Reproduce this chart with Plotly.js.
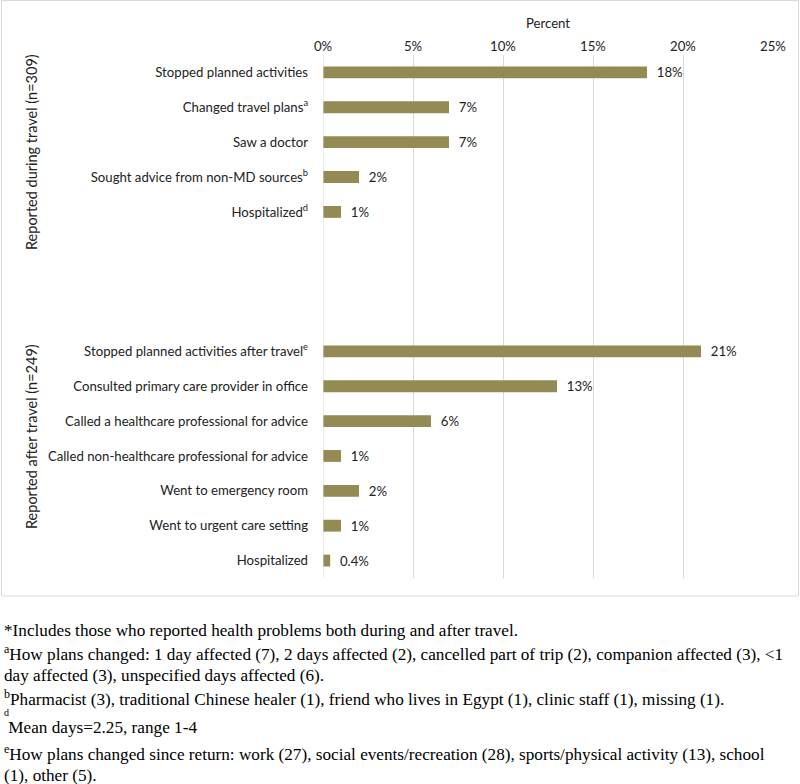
<!DOCTYPE html>
<html>
<head>
<meta charset="utf-8">
<script src="https://cdn.plot.ly/plotly-3.0.1.min.js"></script>
<style>html,body{margin:0;padding:0;background:#fff;}#chart{width:800px;height:784px;}</style>
</head>
<body>
<div id="chart"></div>
<script>
const duringLabels = ["Stopped planned activities", "Changed travel plans<sup>a</sup>", "Saw a doctor", "Sought advice from non-MD sources<sup>b</sup>", "Hospitalized<sup>d</sup>"];
const duringValues = [18, 7, 7, 2, 1];
const duringText = ["18%", "7%", "7%", "2%", "1%"];
const gapLabels = ["gap1", "gap2", "gap3"];
const afterLabels = ["Stopped planned activities after travel<sup>e</sup>", "Consulted primary care provider in office", "Called a healthcare professional for advice", "Called non-healthcare professional for advice", "Went to emergency room", "Went to urgent care setting", "Hospitalized"];
const afterValues = [21, 13, 6, 1, 2, 1, 0.4];
const afterText = ["21%", "13%", "6%", "1%", "2%", "1%", "0.4%"];
const groupTitles = ["Reported during travel (n=309)", "Reported after travel (n=249)"];
const xTickVals = [0, 5, 10, 15, 20, 25];
const xTickText = ["0%", "5%", "10%", "15%", "20%", "25%"];
const footnotes = [
  "*Includes those who reported health problems both during and after travel.",
  "<sup>a</sup>How plans changed: 1 day affected (7), 2 days affected (2), cancelled part of trip (2), companion affected (3), <1",
  "day affected (3), unspecified days affected (6).",
  "<sup>b</sup>Pharmacist (3), traditional Chinese healer (1), friend who lives in Egypt (1), clinic staff (1), missing (1).",
  "d",
  " Mean days=2.25, range 1-4",
  "<sup>e</sup>How plans changed since return: work (27), social events/recreation (28), sports/physical activity (13), school",
  "(1), other (5)."
];

const allY = duringLabels.concat(gapLabels, afterLabels);
const allX = duringValues.concat(gapLabels.map(() => null), afterValues);
const allText = duringText.concat(gapLabels.map(() => ""), afterText).map(t => t ? "\u00a0\u00a0" + t : "");
const tickText = allY.map(c => gapLabels.includes(c) ? "" : c);

const W = 800, H = 784;
const L = 323, R = 27, T = 55, B = 206;
const pw = W - L - R, ph = H - T - B;
const px = x => (x - L) / pw;
const py = y => (H - B - y) / ph;

const labelFont = {family: "Lato, 'Open Sans', sans-serif", size: 13.2, color: "#222"};
const groupFont = {family: "Lato, 'Open Sans', sans-serif", size: 14.5, color: "#222"};

const annotations = [
  {text: groupTitles[0], x: px(31), y: py(152), xref: "paper", yref: "paper", textangle: -90, showarrow: false, font: groupFont, xanchor: "center", yanchor: "middle"},
  {text: groupTitles[1], x: px(31), y: py(437), xref: "paper", yref: "paper", textangle: -90, showarrow: false, font: groupFont, xanchor: "center", yanchor: "middle"}
];
const footY = [630, 653, 675, 698, 712, 727, 753, 775];
footnotes.forEach((t, i) => {
  annotations.push({
    text: t, x: px(2), y: py(footY[i]), xref: "paper", yref: "paper", showarrow: false,
    xanchor: "left", yanchor: "middle", align: "left",
    font: {family: "'Liberation Serif', 'Times New Roman', serif", size: i === 4 ? 10 : 17.2, color: "#000"}
  });
});

const data = [{
  type: "bar",
  orientation: "h",
  x: allX,
  y: allY,
  text: allText,
  textposition: "outside",
  constraintext: "none",
  cliponaxis: false,
  textfont: labelFont,
  marker: {color: "#948a54"},
  width: 0.34,
  hoverinfo: "skip"
}];

const layout = {
  width: W, height: H,
  margin: {l: L, r: R, t: T, b: B},
  paper_bgcolor: "#fff", plot_bgcolor: "#fff",
  showlegend: false,
  font: labelFont,
  xaxis: {
    side: "top",
    range: [0, 25],
    tickvals: xTickVals, ticktext: xTickText,
    showgrid: true, gridcolor: "#d9d9d9", gridwidth: 1,
    zeroline: false, showline: false, ticks: "",
    tickfont: labelFont,
    title: {text: "Percent", font: labelFont, standoff: 6},
    fixedrange: true
  },
  yaxis: {
    type: "category",
    categoryorder: "array", categoryarray: allY,
    tickvals: allY, ticktext: tickText,
    autorange: "reversed",
    showgrid: false, zeroline: false, showline: false, ticks: "",
    tickfont: labelFont,
    ticklabelstandoff: 14,
    fixedrange: true
  },
  shapes: [
    {type: "line", xref: "x", yref: "paper", x0: 0, x1: 0, y0: 0, y1: 1, line: {color: "#d9d9d9", width: 1}},
    {type: "rect", xref: "paper", yref: "paper", x0: px(1.5), x1: px(798.5), y0: py(596), y1: py(0.5), line: {color: "#d9d9d9", width: 1}, fillcolor: "rgba(0,0,0,0)"}
  ],
  annotations: annotations
};

Plotly.newPlot("chart", data, layout, {displayModeBar: false, staticPlot: true});
</script>
</body>
</html>
